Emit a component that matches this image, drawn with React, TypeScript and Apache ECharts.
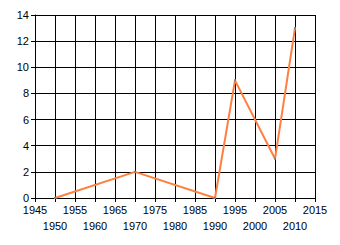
import React, { useEffect, useRef } from "react";
import * as echarts from "echarts";

const years = [1950, 1970, 1990, 1995, 2005, 2010];
const values = [0, 2, 0, 9, 3, 13];
const xMin = 1945;
const xMax = 2015;
const xStep = 5;
const yMax = 14;
const yStep = 2;

export default function App() {
  const ref = useRef<HTMLDivElement>(null);
  useEffect(() => {
    if (!ref.current) return;
    const chart = echarts.init(ref.current, null, { renderer: "svg" });
    const font = { fontFamily: "Liberation Sans", fontSize: 11, color: "#000" };
    const isOdd = (v: number) => Math.round((v - xMin) / xStep) % 2 === 1;
    chart.setOption({
      animation: false,
      backgroundColor: "#fff",
      grid: { left: 35, right: 25, top: 15, bottom: 47, containLabel: false },
      xAxis: [
        {
          type: "value",
          position: "bottom",
          min: xMin,
          max: xMax,
          interval: xStep,
          axisLine: { show: true, lineStyle: { color: "#000", width: 1 } },
          axisTick: { show: true, length: 4, lineStyle: { color: "#000" } },
          splitLine: { show: true, lineStyle: { color: "#000", width: 1 } },
          axisLabel: {
            ...font,
            margin: 6,
            showMinLabel: true,
            showMaxLabel: true,
            formatter: (v: number) => (isOdd(v) ? "" : String(v)),
          },
        },
        {
          type: "value",
          position: "bottom",
          min: xMin,
          max: xMax,
          interval: xStep,
          axisLine: { show: false },
          axisTick: { show: false },
          splitLine: { show: false },
          axisLabel: {
            ...font,
            margin: 22,
            showMinLabel: true,
            showMaxLabel: true,
            formatter: (v: number) => (isOdd(v) ? String(v) : ""),
          },
        },
      ],
      yAxis: {
        type: "value",
        min: 0,
        max: yMax,
        interval: yStep,
        axisLine: { show: true, lineStyle: { color: "#000", width: 1 } },
        axisTick: { show: true, length: 4, lineStyle: { color: "#000" } },
        splitLine: { show: true, lineStyle: { color: "#000", width: 1 } },
        axisLabel: { ...font, margin: 6 },
      },
      series: [
        {
          type: "line",
          xAxisIndex: 0,
          data: years.map((y, i) => [y, values[i]]),
          lineStyle: { color: "#FF7F3F", width: 2 },
          itemStyle: { color: "#808080" },
          symbol: "rect",
          symbolSize: 2,
          showSymbol: true,
        },
      ],
    });
    return () => chart.dispose();
  }, []);
  return <div ref={ref} style={{ width: 340, height: 245, position: "absolute", left: 0, top: 0 }} />;
}
